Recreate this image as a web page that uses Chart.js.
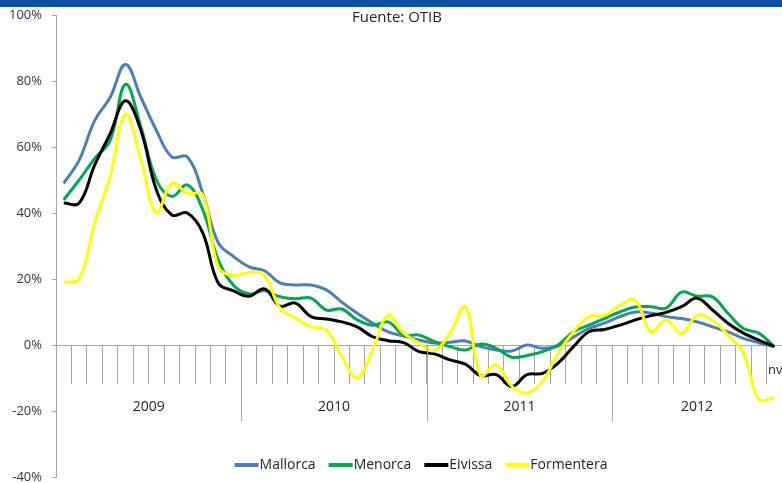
<!DOCTYPE html>
<html>
<head>
<meta charset="utf-8">
<script src="https://cdn.jsdelivr.net/npm/chart.js@4.4.1/dist/chart.umd.min.js"></script>
<style>
  body { margin: 0; background: #fff; }
</style>
</head>
<body>
<canvas id="myChart" width="782" height="483"></canvas>
<script>
// Months shown on the x axis (Jan 2009 - Nov 2012)
var months = [
  '01/2009','02/2009','03/2009','04/2009','05/2009','06/2009','07/2009','08/2009','09/2009','10/2009','11/2009','12/2009',
  '01/2010','02/2010','03/2010','04/2010','05/2010','06/2010','07/2010','08/2010','09/2010','10/2010','11/2010','12/2010',
  '01/2011','02/2011','03/2011','04/2011','05/2011','06/2011','07/2011','08/2011','09/2011','10/2011','11/2011','12/2011',
  '01/2012','02/2012','03/2012','04/2012','05/2012','06/2012','07/2012','08/2012','09/2012','10/2012','11/2012'
];
var years = ['2009', '2010', '2011', '2012'];

// Variacion interanual (%)
var mallorca = [49, 56, 68, 75, 85, 75, 65, 57, 57, 46, 31, 26.8,
  23.7, 22.5, 18.8, 18.2, 18.2, 16.7, 13, 9.6, 6.6, 4, 2.7, 1.5,
  0.6, 0.8, 1.2, -0.5, -1.5, -1.8, 0, -1, -0.3, 2.4, 5, 6.6,
  8.6, 10, 9.7, 8.6, 8, 7, 5.5, 4, 2, 0.7, -0.5];
var menorca = [44, 50, 56.5, 62, 79, 66, 50, 45, 48.5, 41, 25.8, 18,
  15.5, 16.5, 14.6, 14, 14.2, 10.6, 10.9, 7.6, 6, 7, 3, 3,
  1, -0.5, -1.5, 0.3, -1, -3.7, -3.2, -2, 0, 4, 6, 8,
  10, 11.5, 11.6, 11.2, 16, 14.8, 14.6, 9.6, 5, 3.6, -0.5];
var eivissa = [43, 43, 54.5, 64, 74, 65, 47, 39.4, 40, 34, 18.8, 16.4,
  14.8, 17, 11.8, 12.7, 8.6, 7.9, 7, 5.5, 2.5, 1.3, 0.7, -2,
  -2.7, -4.5, -5.8, -9.3, -9, -12.6, -9, -8.6, -5.5, -0.5, 4, 4.7,
  6, 7.6, 8.9, 9.9, 11.6, 14.2, 10.6, 6.6, 3.6, 1.5, -0.5];
var formentera = [19, 20, 37, 51, 70, 56, 40, 49, 46, 45.5, 23.7, 21,
  22, 21, 11.2, 8.2, 5.5, 4.5, -3.5, -10, -1.5, 9, 3.6, 0.6,
  -1.7, 3.6, 11.6, -9.3, -6, -12.5, -14.5, -11, -2.5, 4, 8.6, 9,
  12, 13.6, 4, 7.6, 3.5, 9, 7.5, 3, -2.5, -16.5, -16];

var seriesNames = ['Mallorca', 'Menorca', 'Eivissa', 'Formentera'];
var seriesColors = ['#4a7ebb', '#00a84f', '#000000', '#ffff00'];
var seriesData = [mallorca, menorca, eivissa, formentera];

var fontFamily = '"Open Sans", "DejaVu Sans", sans-serif';

// Extra drawing: top band, title, year labels, legend
var decorations = {
  id: 'decorations',
  afterDraw: function(chart) {
    var ctx = chart.ctx;
    var xs = chart.scales.x;
    var ys = chart.scales.y;
    var zero = ys.getPixelForValue(0);
    var step = xs.width / months.length;
    ctx.save();

    ctx.fillStyle = '#0d4fa1';
    ctx.fillRect(0, 0, chart.width, 7);

    ctx.fillStyle = '#262626';
    ctx.font = '15px ' + fontFamily;
    ctx.textAlign = 'center';
    ctx.textBaseline = 'middle';
    ctx.fillText('Fuente: OTIB', chart.width / 2 + 6, 18);

    ctx.strokeStyle = '#a6a6a6';
    ctx.lineWidth = 1;
    ctx.font = '14px ' + fontFamily;
    years.forEach(function(yr, k) {
      var first = -1, last = -1;
      months.forEach(function(m, i) {
        if (m.slice(3) === yr) { if (first < 0) first = i; last = i; }
      });
      var cx = (xs.getPixelForValue(first) + xs.getPixelForValue(last)) / 2;
      ctx.fillText(yr, cx, zero + 62);
      if (k > 0) {
        var sx = Math.round(xs.getPixelForValue(first) - step / 2) + 0.5;
        ctx.beginPath();
        ctx.moveTo(sx, zero);
        ctx.lineTo(sx, zero + 76);
        ctx.stroke();
      }
    });

    ctx.font = '13px ' + fontFamily;
    ctx.textAlign = 'left';
    ctx.fillText('nv', xs.right - 14, zero + 25);

    // legend
    ctx.font = '14px ' + fontFamily;
    var lineLen = 24, gap = 13;
    var total = 0;
    seriesNames.forEach(function(n) { total += lineLen + ctx.measureText(n).width; });
    total += gap * (seriesNames.length - 1);
    var lx = (chart.chartArea.left + chart.chartArea.right) / 2 - total / 2;
    var ly = 465;
    seriesNames.forEach(function(n, i) {
      ctx.strokeStyle = seriesColors[i];
      ctx.lineWidth = 4;
      ctx.beginPath();
      ctx.moveTo(lx, ly);
      ctx.lineTo(lx + lineLen, ly);
      ctx.stroke();
      ctx.fillStyle = '#262626';
      ctx.fillText(n, lx + lineLen + 1, ly);
      lx += lineLen + 1 + ctx.measureText(n).width + gap;
    });
    ctx.restore();
  }
};

var ctx = document.getElementById('myChart').getContext('2d');
var myChart = new Chart(ctx, {
  type: 'line',
  data: {
    labels: months,
    datasets: seriesNames.map(function(name, i) {
      return {
        label: name,
        data: seriesData[i],
        borderColor: seriesColors[i],
        borderWidth: 3,
        pointRadius: 0,
        fill: false,
        tension: 0.4,
        order: seriesNames.length - i
      };
    })
  },
  options: {
    responsive: false,
    animation: false,
    layout: { padding: { top: 15, bottom: 6, left: 0, right: 0 } },
    plugins: {
      legend: { display: false },
      title: { display: false },
      tooltip: { enabled: false }
    },
    scales: {
      x: {
        position: { y: 0 },
        offset: true,
        grid: {
          offset: true,
          drawOnChartArea: false,
          drawTicks: true,
          tickLength: 38,
          color: '#a6a6a6'
        },
        border: { color: '#a6a6a6', width: 1 },
        ticks: { display: false, autoSkip: false }
      },
      y: {
        min: -40,
        max: 100,
        ticks: {
          stepSize: 20,
          padding: 10,
          color: '#333333',
          font: { family: fontFamily, size: 13, lineHeight: 1 },
          callback: function(v) { return v + '%'; }
        },
        grid: { drawOnChartArea: false, tickLength: 4, color: '#a6a6a6' },
        border: { color: '#a6a6a6', width: 1 },
        afterFit: function(scale) {
          scale.width = 56;
          scale.paddingTop = 0;
          scale.paddingBottom = 0;
        }
      }
    }
  },
  plugins: [decorations]
});
</script>
</body>
</html>
